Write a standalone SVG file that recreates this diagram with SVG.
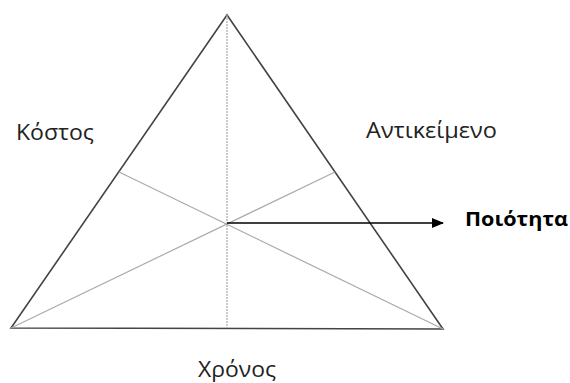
<svg xmlns="http://www.w3.org/2000/svg" width="570" height="383" viewBox="0 0 570 383">
<style>
.lbl{font-family:"Open Sans","Noto Sans",sans-serif;font-size:21px;fill:#222}
.b{font-weight:bold;fill:#000;font-size:20px}
.tri{fill:none;stroke:#444;stroke-width:1.6;stroke-linejoin:miter}
.med{stroke:#aaa;stroke-width:1.2;fill:none}
</style>
<defs>
<marker id="ah" markerWidth="12" markerHeight="10" refX="11" refY="5" orient="auto" markerUnits="userSpaceOnUse">
<path d="M0,0 L12,5 L0,10 z" fill="#000"/>
</marker>
</defs>
<rect width="570" height="383" fill="#fff"/>
<g id="triangle">
<polygon class="tri" points="227,15 11,328 443,329"/>
</g>
<g id="connectors">
<line class="med" x1="227" y1="15" x2="227" y2="328" stroke-dasharray="2,1"/>
<line class="med" x1="11" y1="328" x2="335" y2="172"/>
<line class="med" x1="443" y1="329" x2="119" y2="172"/>
<line x1="227" y1="223" x2="443" y2="223" stroke="#000" stroke-width="1.4" marker-end="url(#ah)"/>
</g>
<g id="kostos"><text class="lbl" x="16" y="140" textLength="78" lengthAdjust="spacingAndGlyphs">Κόστος</text></g>
<g id="antikeimeno"><text class="lbl" x="366" y="138" textLength="131" lengthAdjust="spacingAndGlyphs">Αντικείμενο</text></g>
<g id="xronos"><text class="lbl" x="198" y="377" textLength="78" lengthAdjust="spacingAndGlyphs">Χρόνος</text></g>
<g id="poiotita"><text class="lbl b" x="465" y="226" textLength="103" lengthAdjust="spacingAndGlyphs">Ποιότητα</text></g>
</svg>
